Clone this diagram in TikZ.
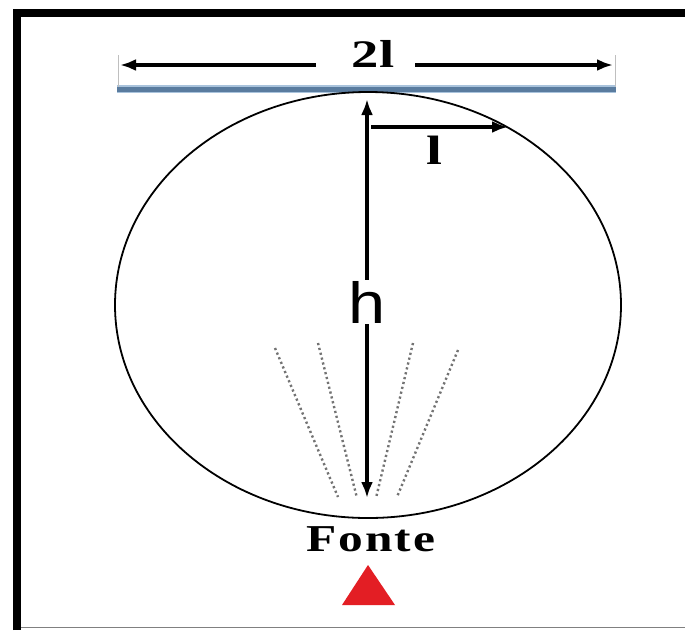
\documentclass[tikz,border=0pt]{standalone}
\usepackage{fontspec}
\setmainfont{Liberation Serif}
\newfontfamily\hfont{Liberation Sans}
\usetikzlibrary{arrows.meta}
\definecolor{barblue}{HTML}{5A7C9F}
\definecolor{barrim}{HTML}{A9C3DC}
\definecolor{srcred}{HTML}{E31E24}

\tikzset{
  dimline/.style={line width=3.4pt,-{Latex[length=16pt,width=12pt]}},
  rayline/.style={black!55,line width=2.4pt,dash pattern=on 2.2pt off 2.8pt},
  endtick/.style={gray!50,line width=0.6pt},
  serflabel/.style={font=\fontsize{#1}{#1}\selectfont\bfseries,xscale=1.4}
}

\begin{document}
\begin{tikzpicture}[x=1pt,y=-1pt]
	\useasboundingbox (0,0) rectangle (685,630);
	\fill[white] (0,0) rectangle (685,630);

	% frame
	\draw[line width=8pt] (17,630) -- (17,12.5) -- (685,12.5);
	\draw[gray,line width=1pt] (21,627) -- (685,627);

	% bar of width 2l
	\draw[barrim,line width=7.5pt] (117,89) -- (616,89);
	\draw[barblue,line width=5pt] (117,89.5) -- (616,89.5);
	\draw[endtick] (118,55) -- (118,87);
	\draw[endtick] (615,55) -- (615,87);

	\coordinate (barL) at (120,65);
	\coordinate (barR) at (613,65);
	\coordinate (gapL) at (316,65);
	\coordinate (gapR) at (415,65);
	\node[serflabel=39] (twol) at (373,54) {2l};
	\draw[dimline] (gapL) -- (barL);
	\draw[dimline] (gapR) -- (barR);

	% circle
	\draw[line width=1.8pt] (368,305) ellipse [x radius=253, y radius=213];

	% rays from the source
	\draw[rayline] (275,348) -- (338,497);
	\draw[rayline] (318,343) -- (357,498);
	\draw[rayline] (413,343) -- (376,498);
	\draw[rayline] (458,350) -- (397,497);

	% height h
	\coordinate (htop) at (367,99);
	\coordinate (hbot) at (367,498);
	\node[font=\fontsize{58}{58}\hfont,xscale=1.15,inner sep=1pt] (hlab) at (367,302) {h};
	\draw[dimline] (hlab.north) -- (htop);
	\draw[dimline] (hlab.south) -- (hbot);

	% radius l
	\coordinate (lstart) at (371,127);
	\coordinate (lend) at (508,127);
	\draw[dimline] (lstart) -- (lend);
	\node[serflabel=41] (llab) at (434,150) {l};

	% source
	\node[font=\fontsize{38}{38}\selectfont\bfseries\addfontfeature{LetterSpace=4},xscale=1.3] (fonte) at (371,539) {Fonte};
	\fill[srcred] (368,565) -- (342,605) -- (395,605) -- cycle;
\end{tikzpicture}
\end{document}
